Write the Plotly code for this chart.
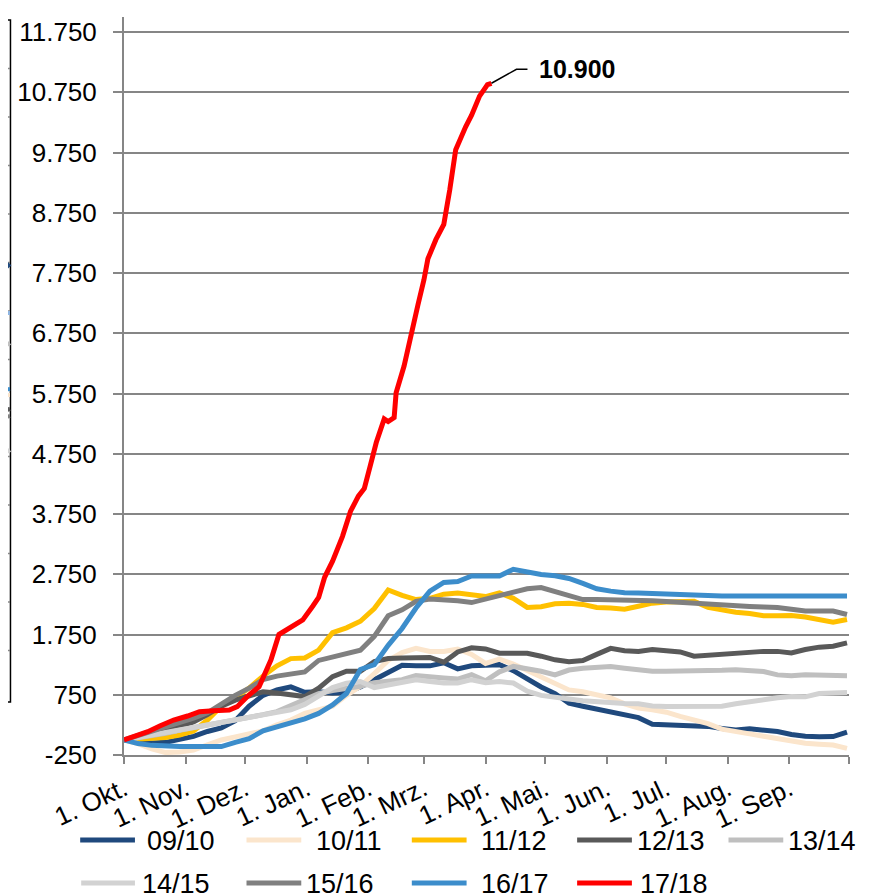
import plotly.graph_objects as go

# ---------------- data ----------------
seasons = ["09/10", "10/11", "11/12", "12/13", "13/14", "14/15", "15/16", "16/17", "17/18"]
days = list(range(0, 365, 7))  # 0 .. 364, weekly

s0910 = [0, -30, -50, -40, 0, 60, 140, 200, 320, 560, 740, 830, 880, 790, 800, 780, 790, 880,
         1000, 1120, 1240, 1230, 1230, 1280, 1180, 1230, 1250, 1250, 1150, 1010, 880, 770, 610,
         560, 510, 450, 410, 370, 260, 250, 250, 250, 225, 190, 165, 185, 170, 140, 90, 60, 55, 56, 130]
s1011 = [0, -60, -150, -210, -200, -170, -80, 0, 50, 90, 150, 250, 330, 440, 500, 560, 740, 890,
         1100, 1320, 1450, 1520, 1470, 1470, 1510, 1420, 1270, 1340, 1260, 1150, 1060, 930, 830,
         800, 740, 700, 600, 530, 500, 460, 390, 330, 270, 180, 130, 100, 60, 20, -30, -55, -70, -85, -140]
s1112 = [0, 10, 20, 40, 80, 150, 330, 560, 700, 860, 1060, 1230, 1350, 1360, 1490, 1780, 1860, 1970,
         2180, 2490, 2400, 2330, 2350, 2420, 2440, 2400, 2380, 2440, 2350, 2200, 2210, 2260, 2270,
         2250, 2200, 2190, 2170, 2220, 2270, 2290, 2300, 2300, 2200, 2150, 2120, 2100, 2060, 2060,
         2065, 2040, 1990, 1956, 2000]
s1213 = [0, 40, 90, 150, 220, 300, 420, 560, 660, 730, 800, 780, 750, 720, 860, 1050, 1140, 1140,
         1300, 1350, 1360, 1360, 1370, 1290, 1460, 1530, 1510, 1440, 1430, 1440, 1390, 1330, 1300,
         1320, 1420, 1520, 1480, 1470, 1500, 1490, 1460, 1390, 1410, 1430, 1445, 1470, 1470, 1470,
         1445, 1500, 1540, 1556, 1610]
s1314 = [0, 30, 60, 110, 160, 200, 240, 290, 330, 370, 420, 470, 570, 680, 770, 820, 850, 890,
         950, 980, 1000, 1070, 1060, 1030, 1010, 1085, 980, 1130, 1220, 1190, 1140, 1080, 1160,
         1190, 1215, 1220, 1190, 1160, 1140, 1140, 1140, 1140, 1145, 1155, 1165, 1160, 1135, 1080,
         1065, 1080, 1080, 1070, 1067]
s1415 = [0, 40, 80, 130, 180, 220, 250, 280, 320, 360, 400, 450, 500, 590, 720, 870, 940, 970,
         870, 920, 960, 1000, 970, 945, 945, 1000, 950, 970, 945, 810, 740, 700, 680, 650, 630,
         610, 605, 600, 565, 555, 560, 570, 570, 560, 600, 640, 670, 700, 720, 715, 770, 785, 789]
s1516 = [0, 70, 130, 200, 290, 360, 450, 600, 740, 860, 1000, 1060, 1100, 1130, 1320, 1380, 1450,
         1490, 1720, 2060, 2160, 2300, 2340, 2330, 2310, 2280, 2340, 2400, 2450, 2510, 2530, 2470,
         2400, 2330, 2330, 2330, 2325, 2315, 2310, 2300, 2285, 2260, 2240, 2225, 2222, 2215, 2205,
         2198, 2170, 2139, 2139, 2139, 2083]
s1617 = [0, -60, -90, -110, -110, -110, -110, -110, -40, 20, 150, 210, 290, 350, 440, 580, 770,
         1170, 1250, 1570, 1850, 2190, 2470, 2615, 2630, 2722, 2722, 2722, 2833, 2790, 2745, 2725,
         2680, 2600, 2510, 2470, 2444, 2440, 2430, 2417, 2405, 2395, 2389, 2389, 2389, 2389, 2389,
         2389, 2389, 2389, 2389, 2389, 2389]
red_days = [0, 5, 12, 18, 25, 32, 38, 45, 53, 57, 62, 68, 72, 74, 78, 84, 90, 95, 98, 101, 105,
            110, 114, 118, 121, 124, 127, 131, 133, 136, 137, 141, 143, 146, 148, 151, 153, 157,
            161, 164, 167, 172, 175, 179, 183, 185]
red_vals = [0, 54, 137, 231, 331, 397, 469, 485, 497, 552, 718, 884, 1216, 1330, 1750, 1880, 1991,
            2220, 2364, 2700, 2967, 3380, 3793, 4047, 4174, 4555, 4937, 5330, 5286, 5350, 5763,
            6207, 6525, 6970, 7224, 7637, 7986, 8304, 8558, 9130, 9797, 10178, 10369, 10686,
            10877, 10900]

month_days = [0, 31, 61, 92, 123, 151, 182, 212, 243, 273, 304, 335, 365]
month_labels = ["1. Okt.", "1. Nov.", "1. Dez.", "1. Jan.", "1. Feb.", "1. Mrz.", "1. Apr.",
                "1. Mai.", "1. Jun.", "1. Jul.", "1. Aug.", "1. Sep.", ""]
y_ticks = list(range(-250, 12000, 1000))
y_labels = [f"{v:,}".replace(",", ".") for v in y_ticks]

colors = ["#1F497D", "#FBE5CC", "#FFC000", "#595959", "#BFBFBF", "#D2D2D2", "#808080",
          "#3C8DCB", "#FF0000"]

# ---------------- layout geometry ----------------
OFF = 8                      # page body margin of the html output
W, H = 882 - OFF, 895 - OFF
ML, MR, MT, MB = 121 - OFF, 33, 17 - OFF, 140
PW, PH = W - ML - MR, H - MT - MB
FONT = "Liberation Sans, Arial, sans-serif"


def px2x(px):
    return (px - OFF - ML) / PW


def px2y(py):
    return (H - MB - (py - OFF)) / PH


fig = go.Figure()
series = [s0910, s1011, s1112, s1213, s1314, s1415, s1516, s1617]
for name, vals, col in zip(seasons[:8], series, colors[:8]):
    fig.add_trace(go.Scatter(x=days, y=vals, mode="lines", name=name, showlegend=False,
                             line=dict(color=col, width=5)))
fig.add_trace(go.Scatter(x=red_days, y=red_vals, mode="lines", name=seasons[8], showlegend=False,
                         line=dict(color=colors[8], width=5)))

shapes = []
annotations = []

# label of the last value of 17/18 with leader line
shapes.append(dict(type="path", xref="x", yref="y", xsizemode="pixel", ysizemode="pixel",
                   xanchor=red_days[-1], yanchor=red_vals[-1], path="M0,0 L25,14 L36,14",
                   line=dict(color="black", width=1.5)))
annotations.append(dict(x=red_days[-1], y=red_vals[-1], xref="x", yref="y", showarrow=False,
                        text="<b>" + f"{red_vals[-1]:,}".replace(",", ".") + "</b>",
                        xanchor="left", yanchor="middle", xshift=46, yshift=14,
                        font=dict(family=FONT, size=25, color="black")))

# manual legend (two rows)
leg_line_x = [(77, 132), (244, 299), (410, 465), (576, 631), (728, 783),
              (78, 132), (244, 299), (410, 465), (576, 631)]
leg_text_x = [142, 312, 477, 634, 786, 137, 302, 477, 637]
leg_row_y = [840, 883]
for i, name in enumerate(seasons):
    yy = leg_row_y[i // 5]
    x0, x1 = leg_line_x[i]
    shapes.append(dict(type="line", xref="paper", yref="paper", x0=px2x(x0), x1=px2x(x1),
                       y0=px2y(yy), y1=px2y(yy), line=dict(color=colors[i], width=5)))
    annotations.append(dict(x=px2x(leg_text_x[i]), y=px2y(yy + 1), xref="paper", yref="paper",
                            text=name, showarrow=False, xanchor="left", yanchor="middle",
                            font=dict(family=FONT, size=27, color="black")))

# fragment of a neighbouring chart at the left edge
shapes.append(dict(type="rect", xref="paper", yref="paper", x0=px2x(-20), x1=px2x(7),
                   y0=px2y(702), y1=px2y(20), line=dict(color="black", width=1.5)))
for k in range(13):
    gy = 68.5 + 48.5 * k
    shapes.append(dict(type="line", xref="paper", yref="paper", x0=px2x(0), x1=px2x(6.5),
                       y0=px2y(gy), y1=px2y(gy), line=dict(color="#868686", width=1.5)))
frag = [(272, 264, "#1F497D"), (313, 313, "#8DB4E2"), (348, 343, "#BFBFBF"),
        (390, 389, "#3C8DCB"), (395, 395, "#FBE5CC"), (412, 409, "#595959"),
        (418, 416, "#808080"), (455, 450, "#D2D2D2")]
for ya, yb, c in frag:
    shapes.append(dict(type="line", xref="paper", yref="paper", x0=px2x(-2), x1=px2x(6.5),
                       y0=px2y(ya), y1=px2y(yb), line=dict(color=c, width=4)))

axis_grey = "#868686"
fig.update_layout(
    width=W, height=H,
    margin=dict(l=ML, r=MR, t=MT, b=MB, pad=0),
    paper_bgcolor="white", plot_bgcolor="white",
    font=dict(family=FONT, color="black"),
    shapes=shapes, annotations=annotations,
    xaxis=dict(range=[0, 365], showgrid=False, zeroline=False, showline=True,
               linecolor=axis_grey, linewidth=2, ticks="outside", ticklen=7, tickwidth=2,
               tickcolor=axis_grey, tickmode="array", tickvals=month_days,
               ticktext=month_labels, tickangle=-25,
               tickfont=dict(family=FONT, size=26, color="black")),
    yaxis=dict(range=[-250, 12000], showgrid=True, gridcolor=axis_grey, gridwidth=2,
               zeroline=False, showline=True, linecolor=axis_grey, linewidth=2,
               ticks="outside", ticklen=9, tickwidth=2, tickcolor=axis_grey,
               ticklabelstandoff=11,
               tickmode="array", tickvals=y_ticks, ticktext=y_labels,
               tickfont=dict(family=FONT, size=26, color="black")),
)

fig.write_html("out.html")
